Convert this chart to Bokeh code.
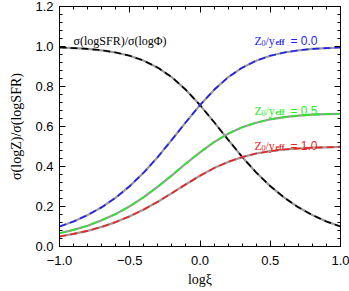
from bokeh.plotting import figure
from bokeh.models import Label, LinearAxis, FixedTicker, Range1d
from bokeh.embed import file_html
from bokeh.resources import INLINE

# ---- data ----
log_xi = [-1.0, -0.9, -0.8, -0.7, -0.6, -0.5, -0.4, -0.3, -0.2, -0.1, 0.0,
          0.1, 0.2, 0.3, 0.4, 0.5, 0.6, 0.7, 0.8, 0.9, 1.0]
sfr_ratio = [0.995, 0.992, 0.988, 0.981, 0.970, 0.954, 0.929, 0.894, 0.846, 0.783, 0.707,
             0.622, 0.534, 0.448, 0.370, 0.302, 0.244, 0.196, 0.157, 0.125, 0.100]
z_00 = [0.100, 0.125, 0.157, 0.196, 0.244, 0.302, 0.370, 0.448, 0.534, 0.622, 0.707,
        0.783, 0.846, 0.894, 0.929, 0.954, 0.970, 0.981, 0.988, 0.992, 0.995]
z_05 = [0.066, 0.083, 0.104, 0.131, 0.162, 0.201, 0.247, 0.299, 0.356, 0.415, 0.471,
        0.522, 0.564, 0.596, 0.619, 0.636, 0.647, 0.654, 0.659, 0.662, 0.663]
z_10 = [0.050, 0.063, 0.078, 0.098, 0.122, 0.151, 0.185, 0.224, 0.267, 0.311, 0.354,
        0.392, 0.423, 0.447, 0.465, 0.477, 0.485, 0.490, 0.494, 0.496, 0.498]

x_tick_labels = {-1.0: "\u22121.0", -0.5: "\u22120.5", 0.0: "0.0", 0.5: "0.5", 1.0: "1.0"}
y_tick_labels = {0.0: "0.0", 0.2: "0.2", 0.4: "0.4", 0.6: "0.6", 0.8: "0.8", 1.0: "1.0", 1.2: "1.2"}

series = [(sfr_ratio, "black"), (z_00, "#1f1ff5"), (z_05, "#1ef01e"), (z_10, "#f01e1e")]
z_labels = [("0.0", 1.03, "#1f1ff5"), ("0.5", 0.68, "#1ef01e"), ("1.0", 0.505, "#f01e1e")]

SERIF = "Liberation Serif"
SANS = "Liberation Sans"

p = figure(frame_width=281, frame_height=240, output_backend="svg", toolbar_location=None,
           x_range=Range1d(-1.0, 1.0), y_range=Range1d(0.0, 1.2),
           min_border_left=59, min_border_right=9, min_border_top=6, min_border_bottom=45)
p.xgrid.visible = False
p.ygrid.visible = False
p.outline_line_color = "black"
p.background_fill_color = "white"

for ys, col in series:
    p.line(log_xi, ys, line_color="#999999", line_width=2.2)
    p.line(log_xi, ys, line_color=col, line_width=1.6, line_dash="7 4")

x_major = list(x_tick_labels.keys())
y_major = list(y_tick_labels.keys())
x_minor = [round(-1.0 + 0.1 * i, 3) for i in range(21)]
y_minor = [round(0.04 * i, 3) for i in range(31)]

def make_ticker(major, minor):
    return FixedTicker(ticks=major, minor_ticks=minor)

def style_axis(ax, show_labels):
    ax.major_tick_in = 6
    ax.major_tick_out = 0
    ax.minor_tick_in = 3
    ax.minor_tick_out = 0
    ax.axis_line_color = "black"
    ax.major_tick_line_color = "black"
    ax.minor_tick_line_color = "black"
    if not show_labels:
        ax.major_label_text_font_size = "1px"
        ax.major_label_text_color = None
        ax.major_label_standoff = 0
        ax.axis_label_standoff = 0

p.xaxis.ticker = make_ticker(x_major, x_minor)
p.yaxis.ticker = make_ticker(y_major, y_minor)
style_axis(p.xaxis[0], True)
style_axis(p.yaxis[0], True)
p.xaxis.major_label_overrides = x_tick_labels
p.yaxis.major_label_overrides = y_tick_labels
for ax in (p.xaxis[0], p.yaxis[0]):
    ax.major_label_text_font = SANS
    ax.major_label_text_font_size = "13px"
    ax.major_label_text_color = "black"
    ax.axis_label_text_font = SERIF
    ax.axis_label_text_font_size = "14px"
    ax.axis_label_text_font_style = "normal"
    ax.axis_label_text_color = "black"
p.xaxis.major_label_standoff = 9
p.yaxis.major_label_standoff = 6
p.xaxis.axis_label = "log\u03be"
p.yaxis.axis_label = "\u03c3(logZ)/\u03c3(logSFR)"
p.xaxis.axis_label_standoff = 4
p.yaxis.axis_label_standoff = 8

top = LinearAxis(ticker=make_ticker(x_major, x_minor))
right = LinearAxis(ticker=make_ticker(y_major, y_minor))
style_axis(top, False)
style_axis(right, False)
p.add_layout(top, "above")
p.add_layout(right, "right")

# black curve label
p.add_layout(Label(x=-0.9, y=1.03, text="\u03c3(logSFR)/\u03c3(log\u03a6)",
                   text_font=SERIF, text_font_size="12px", text_color="black",
                   text_baseline="alphabetic"))

# Z0/y_eff labels, built from pieces
pieces = [("Z", 0, 0, "12px", SERIF, "normal"),
          ("0", 7, -2, "8px", SERIF, "normal"),
          ("/y", 11, 0, "12px", SERIF, "normal"),
          ("eff", 21, -2, "8px", SERIF, "bold"),
          ("=", 36, 0, "12px", SANS, "normal")]
for val, ypos, col in z_labels:
    for txt, dx, dy, fs, font, style in pieces:
        if txt == "=":
            txt = "=  " + val
        p.add_layout(Label(x=0.388, y=ypos, x_offset=dx, y_offset=dy, text=txt,
                           text_font=font, text_font_size=fs, text_font_style=style,
                           text_color=col, text_baseline="alphabetic"))

open("out.html", "w").write(file_html(p, INLINE))
